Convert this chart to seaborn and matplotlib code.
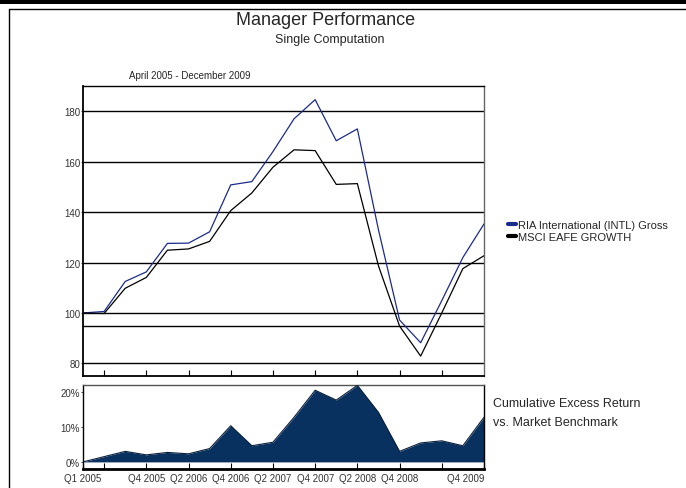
import seaborn as sns
import pandas as pd
import matplotlib.pyplot as plt
from matplotlib.lines import Line2D
from matplotlib.patches import Rectangle

# Quarterly data, Q1 2005 - Q4 2009
quarters = ["Q1 2005", "Q2 2005", "Q3 2005", "Q4 2005",
            "Q1 2006", "Q2 2006", "Q3 2006", "Q4 2006",
            "Q1 2007", "Q2 2007", "Q3 2007", "Q4 2007",
            "Q1 2008", "Q2 2008", "Q3 2008", "Q4 2008",
            "Q1 2009", "Q2 2009", "Q3 2009", "Q4 2009"]
ria = [100.0, 100.6, 112.5, 116.3, 127.6, 127.7, 132.2, 150.8, 152.1, 164.0,
       177.0, 184.6, 168.3, 173.0, 133.0, 97.2, 88.2, 104.9, 122.0, 135.3]
msci = [100.0, 99.8, 109.8, 114.1, 124.9, 125.4, 128.4, 140.6, 147.6, 157.8,
        164.7, 164.4, 151.0, 151.3, 118.7, 94.8, 82.9, 100.0, 117.6, 122.7]
excess = [0.0, 1.5, 3.0, 2.0, 2.7, 2.3, 3.8, 10.3, 4.6, 5.6,
          12.7, 20.4, 17.6, 21.8, 14.1, 3.0, 5.4, 6.0, 4.6, 12.7]

# Tick labels shown on the bottom axis
tick_pos = [0, 1, 3, 5, 7, 9, 11, 13, 15, 17, 19]
tick_labels = ["Q1 2005", "", "Q4 2005", "Q2 2006", "Q4 2006", "Q2 2007",
               "Q4 2007", "Q2 2008", "Q4 2008", "", "Q4 2009"]

df = pd.DataFrame({"q": range(len(quarters)), "ria": ria, "msci": msci, "excess": excess})

sns.set_theme(style="white")
plt.rcParams['font.family'] = ['Liberation Sans', 'DejaVu Sans']

fig = plt.figure(figsize=(6.86, 4.89), dpi=100)
ax1 = fig.add_axes([0.121, 0.229, 0.5845, 0.593])
ax2 = fig.add_axes([0.121, 0.039, 0.5845, 0.1724])

# Top panel: performance lines
for y in [80, 95, 100, 120, 140, 160, 180]:
    ax1.axhline(y, color="black", linewidth=1.0, zorder=1)
sns.lineplot(data=df, x="q", y="ria", ax=ax1, color="#1c2a8c", linewidth=0.9, zorder=3)
sns.lineplot(data=df, x="q", y="msci", ax=ax1, color="black", linewidth=0.9, zorder=3)
ax1.set_xlim(0, 19)
ax1.set_ylim(75, 190)
ax1.set_yticks([80, 100, 120, 140, 160, 180])
ax1.set_xticks([1, 3, 5, 7, 9, 11, 13, 15, 17])
ax1.set_xticklabels([])
ax1.tick_params(axis="x", direction="in", length=4, width=0.8, bottom=True, color="black")
ax1.tick_params(axis="y", direction="out", length=1.5, width=0.6, left=True,
                labelsize=7, labelcolor="#333333", pad=0.5)
ax1.set_xlabel("")
ax1.set_ylabel("")
for side, lw in [("left", 1.3), ("bottom", 1.3), ("top", 1.0), ("right", 1.0)]:
    ax1.spines[side].set_linewidth(lw)
    ax1.spines[side].set_color("black")
ax1.spines["right"].set_color("#666666")

# Bottom panel: cumulative excess return area
ax2.fill_between(df["q"], 0, df["excess"], color="#08315f", linewidth=0, zorder=2)
sns.lineplot(data=df, x="q", y="excess", ax=ax2, color="#0a1f3a", linewidth=0.8, zorder=3)
ax2.set_xlim(0, 19)
ax2.set_ylim(-2, 22)
ax2.set_yticks([0, 10, 20])
ax2.set_yticklabels(["0%", "10%", "20%"])
ax2.set_xticks(tick_pos)
ax2.set_xticklabels(tick_labels)
ax2.get_xticklabels()[-1].set_horizontalalignment("right")
ax2.tick_params(axis="x", direction="in", length=4, width=0.8, bottom=True,
                labelsize=7, labelcolor="#333333", pad=3, color="black")
ax2.tick_params(axis="y", direction="out", length=1.5, width=0.6, left=True,
                labelsize=7, labelcolor="#333333", pad=0.5)
ax2.set_xlabel("")
ax2.set_ylabel("")
for side in ["left", "top", "right"]:
    ax2.spines[side].set_linewidth(1.0)
    ax2.spines[side].set_color("black")
ax2.spines["top"].set_color("#555555")
ax2.spines["bottom"].set_linewidth(2.0)
ax2.spines["bottom"].set_color("black")

# Titles
fig.text(0.475, 0.958, "Manager Performance", ha="center", va="center", fontsize=13)
fig.text(0.48, 0.918, "Single Computation", ha="center", va="center", fontsize=9)
fig.text(0.276, 0.845, "April 2005 - December 2009", ha="center", va="center", fontsize=7)

# Legend
handles = [Line2D([], [], color="#1c2a8c", linewidth=3),
           Line2D([], [], color="black", linewidth=3)]
fig.legend(handles, ["RIA International (INTL) Gross", "MSCI EAFE GROWTH"],
           loc="upper left", bbox_to_anchor=(0.741, 0.549), frameon=False,
           fontsize=8, handlelength=0.7, handletextpad=0.15, labelspacing=0.2,
           borderaxespad=0, borderpad=0)

fig.text(0.719, 0.174, "Cumulative Excess Return", ha="left", va="center", fontsize=9)
fig.text(0.719, 0.1356, "vs. Market Benchmark", ha="left", va="center", fontsize=9)

# Page frame
fig.add_artist(Rectangle((0, 1 - 5 / 489), 1, 5 / 489, transform=fig.transFigure,
                         facecolor="black", edgecolor="none"))
fig.add_artist(Line2D([9 / 686, 1], [1 - 9.5 / 489, 1 - 9.5 / 489],
                      transform=fig.transFigure, color="black", linewidth=1.0))
fig.add_artist(Line2D([9 / 686, 9 / 686], [0, 1 - 9.5 / 489],
                      transform=fig.transFigure, color="black", linewidth=1.0))

fig.savefig("out.png", dpi=100)
